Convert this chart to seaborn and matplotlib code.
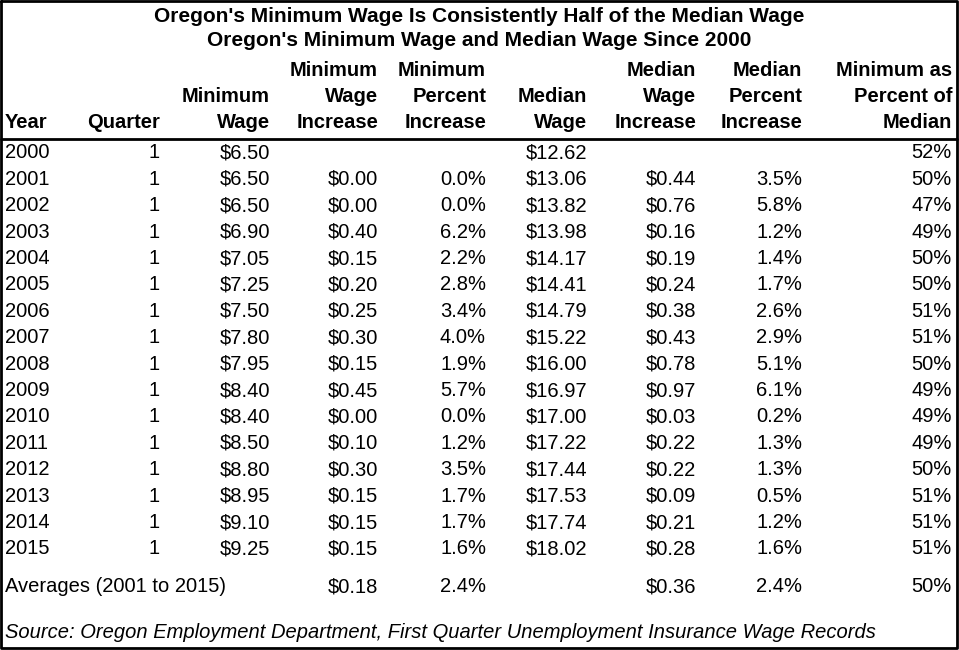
import matplotlib.pyplot as plt
import seaborn as sns

sns.set_theme(style="white", font="Liberation Sans", rc={"text.color": "black"})

title1 = "Oregon's Minimum Wage Is Consistently Half of the Median Wage"
title2 = "Oregon's Minimum Wage and Median Wage Since 2000"

headers = [["", "", "", "Minimum", "Minimum", "", "Median", "Median", "Minimum as"],
           ["", "", "Minimum", "Wage", "Percent", "Median", "Wage", "Percent", "Percent of"],
           ["Year", "Quarter", "Wage", "Increase", "Increase", "Wage", "Increase", "Increase", "Median"]]

years = list(range(2000, 2016))
quarters = [1] * 16
min_wage = [6.50, 6.50, 6.50, 6.90, 7.05, 7.25, 7.50, 7.80, 7.95, 8.40, 8.40, 8.50, 8.80, 8.95, 9.10, 9.25]
min_inc = [None, 0.00, 0.00, 0.40, 0.15, 0.20, 0.25, 0.30, 0.15, 0.45, 0.00, 0.10, 0.30, 0.15, 0.15, 0.15]
min_pct = [None, 0.0, 0.0, 6.2, 2.2, 2.8, 3.4, 4.0, 1.9, 5.7, 0.0, 1.2, 3.5, 1.7, 1.7, 1.6]
med_wage = [12.62, 13.06, 13.82, 13.98, 14.17, 14.41, 14.79, 15.22, 16.00, 16.97, 17.00, 17.22, 17.44, 17.53, 17.74, 18.02]
med_inc = [None, 0.44, 0.76, 0.16, 0.19, 0.24, 0.38, 0.43, 0.78, 0.97, 0.03, 0.22, 0.22, 0.09, 0.21, 0.28]
med_pct = [None, 3.5, 5.8, 1.2, 1.4, 1.7, 2.6, 2.9, 5.1, 6.1, 0.2, 1.3, 1.3, 0.5, 1.2, 1.6]
min_of_med = [52, 50, 47, 49, 50, 50, 51, 51, 50, 49, 49, 49, 50, 51, 51, 51]

avg_label = "Averages (2001 to 2015)"
avg_values = ["", "", "", "$0.18", "2.4%", "", "$0.36", "2.4%", "50%"]
source = "Source: Oregon Employment Department, First Quarter Unemployment Insurance Wage Records"

W, H = 959, 650
fig = plt.figure(figsize=(W / 100, H / 100), dpi=100)
ax = fig.add_axes([0, 0, 1, 1])
ax.set_xlim(0, W)
ax.set_ylim(H, 0)
ax.axis("off")

# column right edges (Year is left aligned)
col_x = [5, 160, 270, 378, 486, 587, 696, 802, 952]
fs = 14.5

# border and header rule
ax.plot([1, W - 2, W - 2, 1, 1], [1, 1, H - 2, H - 2, 1], color="black", lw=2)
ax.plot([1, W - 2], [139, 139], color="black", lw=2)

ax.text(479, 17, title1, ha="center", va="center", fontsize=15, fontweight="bold")
ax.text(479, 40, title2, ha="center", va="center", fontsize=15, fontweight="bold")

for r, row in enumerate(headers):
    y = 70 + r * 26.5
    for c, txt in enumerate(row):
        ax.text(col_x[c], y, txt, ha="left" if c == 0 else "right", va="center",
                fontsize=fs, fontweight="bold")

def money(v):
    return "" if v is None else f"${v:.2f}"

def pct(v):
    return "" if v is None else f"{v:.1f}%"

for i, yr in enumerate(years):
    y = 153 + i * 26.4
    cells = [str(yr), str(quarters[i]), money(min_wage[i]), money(min_inc[i]), pct(min_pct[i]),
             money(med_wage[i]), money(med_inc[i]), pct(med_pct[i]), f"{min_of_med[i]}%"]
    for c, txt in enumerate(cells):
        ax.text(col_x[c], y, txt, ha="left" if c == 0 else "right", va="center", fontsize=fs)

ax.text(col_x[0], 587, avg_label, ha="left", va="center", fontsize=fs)
for c, txt in enumerate(avg_values):
    if txt:
        ax.text(col_x[c], 587, txt, ha="right", va="center", fontsize=fs)

ax.text(col_x[0], 633, source, ha="left", va="center", fontsize=fs, style="italic")

fig.savefig("out.png", dpi=100)
